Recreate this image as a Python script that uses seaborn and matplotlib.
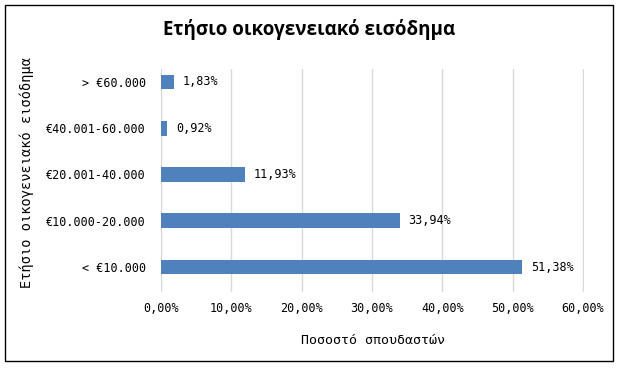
import matplotlib
matplotlib.use("Agg")
import matplotlib.pyplot as plt
import seaborn as sns
import pandas as pd
from matplotlib.patches import Rectangle

categories = ["> €60.000", "€40.001-60.000", "€20.001-40.000", "€10.000-20.000", "< €10.000"]
values = [1.83, 0.92, 11.93, 33.94, 51.38]
x_ticks = [0, 10, 20, 30, 40, 50, 60]
title = "Ετήσιο οικογενειακό εισόδημα"
y_title = "Ετήσιο οικογενειακό εισόδημα"
x_title = "Ποσοστό σπουδαστών"

sns.set_style("white")
plt.rcParams['font.family'] = ['DejaVu Sans Mono', 'DejaVu Sans']
plt.rcParams['text.color'] = 'black'
plt.rcParams['axes.labelcolor'] = 'black'
plt.rcParams['xtick.color'] = 'black'
plt.rcParams['ytick.color'] = 'black'

df = pd.DataFrame({"cat": categories, "val": values})

fig = plt.figure(figsize=(6.18, 3.71), dpi=100)
ax = fig.add_axes([161/618, 1-292/371, (584-161)/618, (292-69)/371])
sns.barplot(data=df, x="val", y="cat", orient="h", color="#4F81BD", width=0.32,
            saturation=1, ax=ax, zorder=3, linewidth=0)
ax.set_xlim(0, 60.15)
ax.set_ylim(4.54, -0.28)
ax.set_xticks(x_ticks)
ax.set_xticklabels([f"{t:.2f}".replace(".", ",") + "%" for t in x_ticks], fontsize=8.5)
ax.tick_params(axis="y", labelsize=8.5, length=0, pad=11)
ax.tick_params(axis="x", length=0, pad=7)
ax.grid(axis="x", color="#D9D9D9", lw=1, zorder=0)
ax.grid(axis="y", visible=False)
for s in ax.spines.values():
    s.set_visible(False)
ax.set_xlabel(x_title, fontsize=9.5, labelpad=14)
ax.set_ylabel("")
fig.text(27/618, 1-172/371, y_title, rotation=90, fontsize=9.8, ha="center", va="center")
ax.bar_label(ax.containers[0], labels=[f"{v:.2f}".replace(".", ",") + "%" for v in values],
             padding=6, fontsize=8.5)
fig.text(0.5, 1-30/371, title, ha="center", va="center", fontsize=13.5, fontweight="bold",
         family=["Open Sans", "DejaVu Sans"], color="black")
fig.add_artist(Rectangle((5/618, 1-361/371), (613-5)/618, (361-5)/371, transform=fig.transFigure,
                         fill=False, ec="black", lw=1))
fig.savefig("out.png", dpi=100)
